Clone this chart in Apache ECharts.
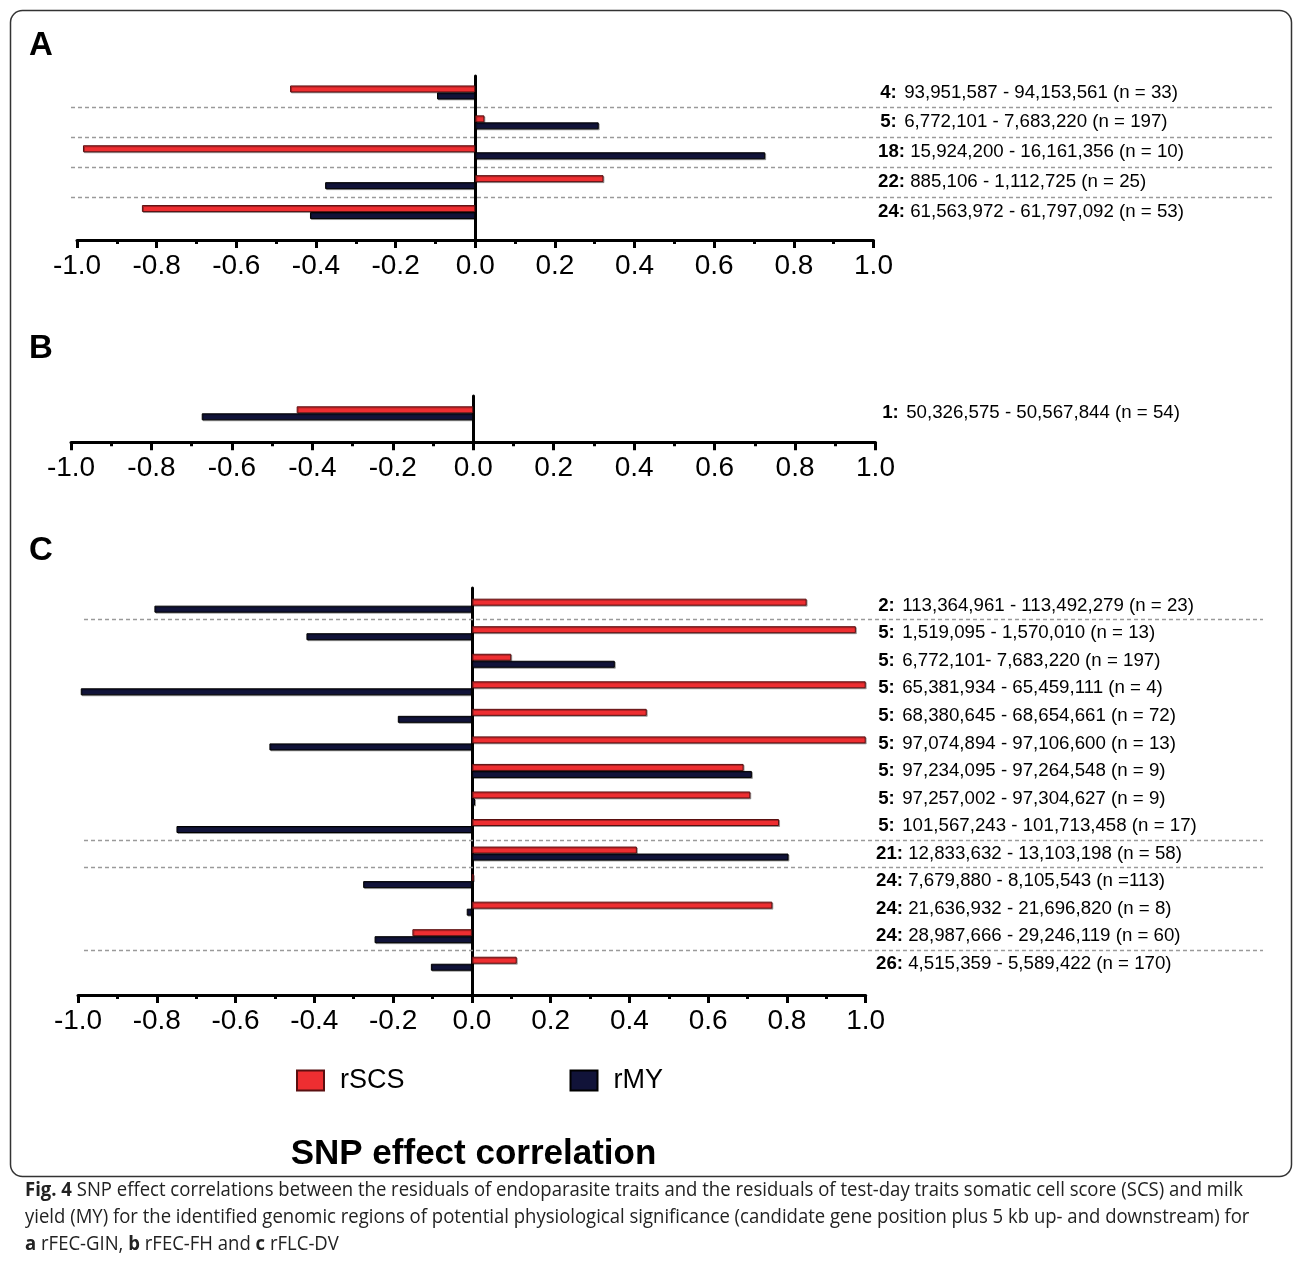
<!DOCTYPE html>
<html><head><meta charset="utf-8">
<script src="https://cdn.jsdelivr.net/npm/echarts@6/dist/echarts.min.js"></script>
<style>html,body{margin:0;padding:0;background:#fff}#c{width:1293px;height:1261px}</style>
</head><body><div id="c"></div>
<script>
// ---------- DATA ----------
const chromA = ['4', '5', '18', '22', '24'];
const rangeA = ['93,951,587 - 94,153,561 (n = 33)', '6,772,101 - 7,683,220 (n = 197)', '15,924,200 - 16,161,356 (n = 10)', '885,106 - 1,112,725 (n = 25)', '61,563,972 - 61,797,092 (n = 53)'];
const scsA = [-0.465, 0.023, -0.985, 0.322, -0.837];
const myA = [-0.096, 0.310, 0.728, -0.377, -0.415];
const sepA = [1, 2, 3, 4];

const chromB = ['1'];
const rangeB = ['50,326,575 - 50,567,844 (n = 54)'];
const scsB = [-0.439];
const myB = [-0.675];
const sepB = [];

const chromC = ['2', '5', '5', '5', '5', '5', '5', '5', '5', '21', '24', '24', '24', '26'];
const rangeC = ['113,364,961 - 113,492,279 (n = 23)', '1,519,095 - 1,570,010 (n = 13)', '6,772,101- 7,683,220 (n = 197)', '65,381,934 - 65,459,111 (n = 4)', '68,380,645 - 68,654,661 (n = 72)', '97,074,894 - 97,106,600 (n = 13)', '97,234,095 - 97,264,548 (n = 9)', '97,257,002 - 97,304,627 (n = 9)', '101,567,243 - 101,713,458 (n = 17)', '12,833,632 - 13,103,198 (n = 58)', '7,679,880 - 8,105,543 (n =113)', '21,636,932 - 21,696,820 (n = 8)', '28,987,666 - 29,246,119 (n = 60)', '4,515,359 - 5,589,422 (n = 170)'];
const scsC = [0.850, 0.975, 0.100, 1.000, 0.444, 1.000, 0.690, 0.707, 0.780, 0.419, 0.005, 0.763, -0.151, 0.114];
const myC = [-0.806, -0.420, 0.363, -0.993, -0.188, -0.514, 0.711, 0.008, -0.750, 0.804, -0.276, -0.013, -0.247, -0.104];
const sepC = [1, 9, 10, 13];

const seriesNames = ['rSCS', 'rMY'];
const axisMin = -1, axisMax = 1, axisStep = 0.2;

// ---------- LAYOUT / STYLE ----------
const FF = '"Liberation Sans", Arial, Helvetica, sans-serif';
const RED = '#EE2E31', NAVY = '#111339';
const LBL = 18.7;
const panels = [
  {letter: 'A', letterY: 46, chrom: chromA, range: rangeA, scs: scsA, my: myA, sep: sepA,
   x0: 77, x1: 873.5, barTop: 77.5, barH: 149.5, axTop: 76, axBottom: 240, sepL: 71, sepR: 1275, labelStart: 878},
  {letter: 'B', letterY: 349, chrom: chromB, range: rangeB, scs: scsB, my: myB, sep: sepB,
   x0: 71, x1: 875.5, barTop: 398.3, barH: 30, axTop: 396, axBottom: 442.3, sepL: 71, sepR: 1275, labelStart: 880},
  {letter: 'C', letterY: 551, chrom: chromC, range: rangeC, scs: scsC, my: myC, sep: sepC,
   x0: 78, x1: 865.7, barTop: 591.9, barH: 385.6, axTop: 588, axBottom: 995, sepL: 84, sepR: 1263, labelStart: 876}
];

const grid = [], xAxis = [], yAxis = [], series = [], graphic = [];
panels.forEach(p => {
  // bars grid
  let gi = grid.length;
  grid.push({left: p.x0, top: p.barTop, width: p.x1 - p.x0, height: p.barH});
  xAxis.push({gridIndex: gi, type: 'value', min: axisMin, max: axisMax, show: false});
  yAxis.push({gridIndex: gi, type: 'category', inverse: true, position: 'right',
    data: p.chrom.map((c, i) => `{${c.length === 1 ? 's' : 'd'}|${c}:} ${p.range[i]}`),
    axisLine: {show: false, onZero: false}, axisTick: {show: false}, splitLine: {show: false},
    axisLabel: {margin: p.labelStart - p.x1, fontSize: LBL, fontFamily: FF, color: '#000',
      rich: {
        s: {fontWeight: 'bold', fontSize: LBL, fontFamily: FF, color: '#000', width: 21, align: 'right'},
        d: {fontWeight: 'bold', fontSize: LBL, fontFamily: FF, color: '#000'}
      }}});
  const barStyle = (col, border) => ({color: col, borderColor: border, borderWidth: 1,
    shadowColor: 'rgba(0,0,0,0.3)', shadowOffsetX: 1, shadowOffsetY: 1, shadowBlur: 0});
  series.push({type: 'bar', name: seriesNames[0], xAxisIndex: gi, yAxisIndex: gi, data: p.scs,
    barWidth: 7, barGap: '0%', itemStyle: barStyle(RED, '#5a0f10')});
  series.push({type: 'bar', name: seriesNames[1], xAxisIndex: gi, yAxisIndex: gi, data: p.my,
    barWidth: 7, barGap: '0%', itemStyle: barStyle(NAVY, '#000')});

  // axis grid (visible x axis + zero line)
  gi = grid.length;
  grid.push({left: p.x0, top: p.axTop, width: p.x1 - p.x0, height: p.axBottom - p.axTop});
  xAxis.push({gridIndex: gi, type: 'value', min: axisMin, max: axisMax, interval: axisStep,
    axisLine: {show: true, onZero: false, lineStyle: {color: '#000', width: 3}},
    axisTick: {show: true, inside: false, length: 8, lineStyle: {color: '#000', width: 3}},
    minorTick: {show: true, splitNumber: 2, length: 4, lineStyle: {color: '#000', width: 3}},
    splitLine: {show: false},
    axisLabel: {margin: 12, fontSize: 28, fontFamily: FF, color: '#000',
      formatter: v => (Math.abs(v) < 1e-9 ? 0 : v).toFixed(1)}});
  yAxis.push({gridIndex: gi, type: 'value', min: 0, max: 1,
    axisLine: {show: true, onZero: true, lineStyle: {color: '#000', width: 3}},
    axisTick: {show: false}, axisLabel: {show: false}, splitLine: {show: false}});

  // separator grid
  if (p.sep.length) {
    gi = grid.length;
    grid.push({left: p.sepL, top: p.barTop, width: p.sepR - p.sepL, height: p.barH});
    xAxis.push({gridIndex: gi, type: 'value', min: 0, max: 1, show: false});
    yAxis.push({gridIndex: gi, type: 'value', min: 0, max: p.chrom.length, inverse: true, show: false});
    series.push({type: 'line', xAxisIndex: gi, yAxisIndex: gi, data: [], silent: true,
      markLine: {symbol: ['none', 'none'], silent: true, label: {show: false},
        lineStyle: {type: [4, 3], color: '#9a9a9a', width: 1.3},
        data: p.sep.map(v => ({yAxis: v}))}});
  }

  graphic.push({type: 'text', x: 29, y: p.letterY, silent: true,
    style: {text: p.letter, fontSize: 33, fontWeight: 'bold', fontFamily: FF, fill: '#000', verticalAlign: 'middle'}});
});

// frame
graphic.unshift({type: 'rect', silent: true, shape: {x: 10.5, y: 10.5, width: 1281, height: 1166, r: 12},
  style: {fill: 'none', stroke: '#333', lineWidth: 1.5}});

// title
graphic.push({type: 'text', x: 473.5, y: 1154, silent: true,
  style: {text: 'SNP effect correlation', fontSize: 35, fontWeight: 'bold', fontFamily: FF, fill: '#000',
    align: 'center', verticalAlign: 'middle'}});

// caption
const capFont = '"Open Sans", "Noto Sans", sans-serif';
const capSize = 20;
const capLines = [
  ['Fig. 4', ' SNP effect correlations between the residuals of endoparasite traits and the residuals of test-day traits somatic cell score (SCS) and milk'],
  ['', 'yield (MY) for the identified genomic regions of potential physiological significance (candidate gene position plus 5 kb up- and downstream) for'],
  ['a', ' rFEC-GIN, {b|b} rFEC-FH and {b|c} rFLC-DV']
];
const cv = document.createElement('canvas').getContext('2d');
cv.font = 'bold ' + capSize + 'px ' + capFont;
let w1 = cv.measureText(capLines[0][0]).width;
cv.font = capSize + 'px ' + capFont;
w1 += cv.measureText(capLines[0][1]).width;
const capScale = 1218 / w1;
const capY = [1190, 1217, 1244];
capLines.forEach((l, i) => {
  graphic.push({type: 'text', x: 25, y: capY[i], scaleX: capScale, silent: true,
    style: {text: (l[0] ? '{b|' + l[0] + '}' : '') + l[1], fontSize: capSize, fontFamily: capFont, fill: '#222',
      verticalAlign: 'middle', rich: {b: {fontWeight: 'bold', fontSize: capSize, fontFamily: capFont, fill: '#222'}}}});
});

const chart = echarts.init(document.getElementById('c'), null, {renderer: 'canvas'});
chart.setOption({
  animation: false,
  backgroundColor: '#fff',
  legend: {data: seriesNames, left: 296, top: 1067, padding: 0, itemWidth: 27, itemHeight: 20, itemGap: 165,
    selectedMode: false, icon: 'rect',
    textStyle: {fontSize: 27, fontFamily: FF, color: '#000', padding: [0, 0, 0, 11]}},
  grid, xAxis, yAxis, series, graphic
});
</script></body></html>
